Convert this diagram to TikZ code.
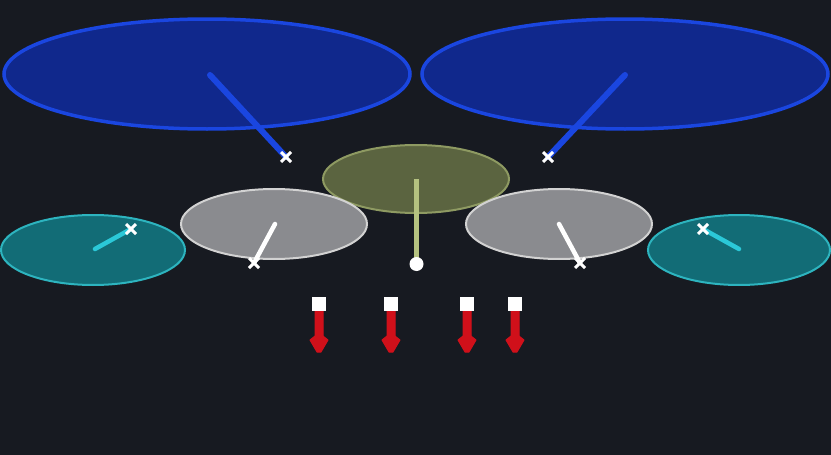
\documentclass[tikz,border=0pt]{standalone}
\usetikzlibrary{calc}
\definecolor{bg}{HTML}{171A21}
\definecolor{bluefill}{HTML}{10288C}
\definecolor{blueline}{HTML}{1A46E0}
\definecolor{olivefill}{HTML}{5B6440}
\definecolor{oliveline}{HTML}{8E9A62}
\definecolor{olivestick}{HTML}{B5C280}
\definecolor{grayfill}{HTML}{8A8B8F}
\definecolor{grayline}{HTML}{D2D2D2}
\definecolor{tealfill}{HTML}{126C76}
\definecolor{tealline}{HTML}{2DB4BF}
\definecolor{cyanstick}{HTML}{2BC8D8}
\definecolor{thermred}{HTML}{D0101A}
\tikzset{
  bluepad/.style={fill=bluefill,draw=blueline,line width=3.5pt},
  olivepad/.style={fill=olivefill,draw=oliveline,line width=2pt},
  graypad/.style={fill=grayfill,draw=grayline,line width=2pt},
  tealpad/.style={fill=tealfill,draw=tealline,line width=2pt},
  stick/.style={line width=4.5pt,line cap=round},
  crossmark/.style={white,line width=3pt},
  thermbox/.style={fill=white,minimum size=14pt,inner sep=0pt},
  thermbody/.style={fill=thermred,draw=thermred,line width=1pt,line join=round}
}
\newcommand{\xmark}[1]{\draw[crossmark] ($(#1)+(-5,-5)$) -- ($(#1)+(5,5)$) ($(#1)+(-5,5)$) -- ($(#1)+(5,-5)$);}
\newcommand{\therm}[2]{%
  \filldraw[thermbody] (#1-4,310) -- (#1+4,310) -- (#1+4,336) -- (#1+9,340) -- (#1+2,352) -- (#1-2,352) -- (#1-9,340) -- (#1-4,336) -- cycle;
  \node[thermbox] (#2) at (#1,303.5) {};}
\begin{document}
\begin{tikzpicture}[x=1pt,y=-1pt]
\useasboundingbox (0,0) rectangle (831,455);
\fill[bg] (0,0) rectangle (831,455);
% blue pads
\draw[bluepad] (207,74) ellipse [x radius=203, y radius=55];
\draw[bluepad] (625,74) ellipse [x radius=203, y radius=55];
\coordinate (bl) at (210,75);
\coordinate (blx) at (286,157);
\coordinate (br) at (625,75);
\coordinate (brx) at (548,157);
\draw[stick,blueline,line width=6pt] (bl) -- (blx);
\draw[stick,blueline,line width=6pt] (br) -- (brx);
\xmark{blx}
\xmark{brx}
% olive pad
\draw[olivepad] (416,179) ellipse [x radius=93, y radius=34];
% gray pads
\draw[graypad] (274,224) ellipse [x radius=93, y radius=35];
\draw[graypad] (559,224) ellipse [x radius=93, y radius=35];
% teal pads
\draw[tealpad] (93,250) ellipse [x radius=92, y radius=35];
\draw[tealpad] (739,250) ellipse [x radius=91, y radius=35];
% olive stick
\coordinate (oc) at (416.5,179);
\coordinate (od) at (416.5,264);
\draw[line width=5pt,olivestick] (oc) -- (od);
\fill[white] (od) circle (7);
% gray sticks
\coordinate (gl) at (275,224);
\coordinate (glx) at (254,263);
\coordinate (gr) at (559,224);
\coordinate (grx) at (580,263);
\draw[stick,white] (gl) -- (glx);
\draw[stick,white] (gr) -- (grx);
\xmark{glx}
\xmark{grx}
% teal sticks
\coordinate (tl) at (95,249);
\coordinate (tlx) at (131,229);
\coordinate (tr) at (739,249);
\coordinate (trx) at (703,229);
\draw[stick,cyanstick] (tl) -- (tlx);
\draw[stick,cyanstick] (tr) -- (trx);
\xmark{tlx}
\xmark{trx}
% thermometers
\therm{319}{tha}
\therm{391}{thb}
\therm{467}{thc}
\therm{515}{thd}
\end{tikzpicture}
\end{document}
